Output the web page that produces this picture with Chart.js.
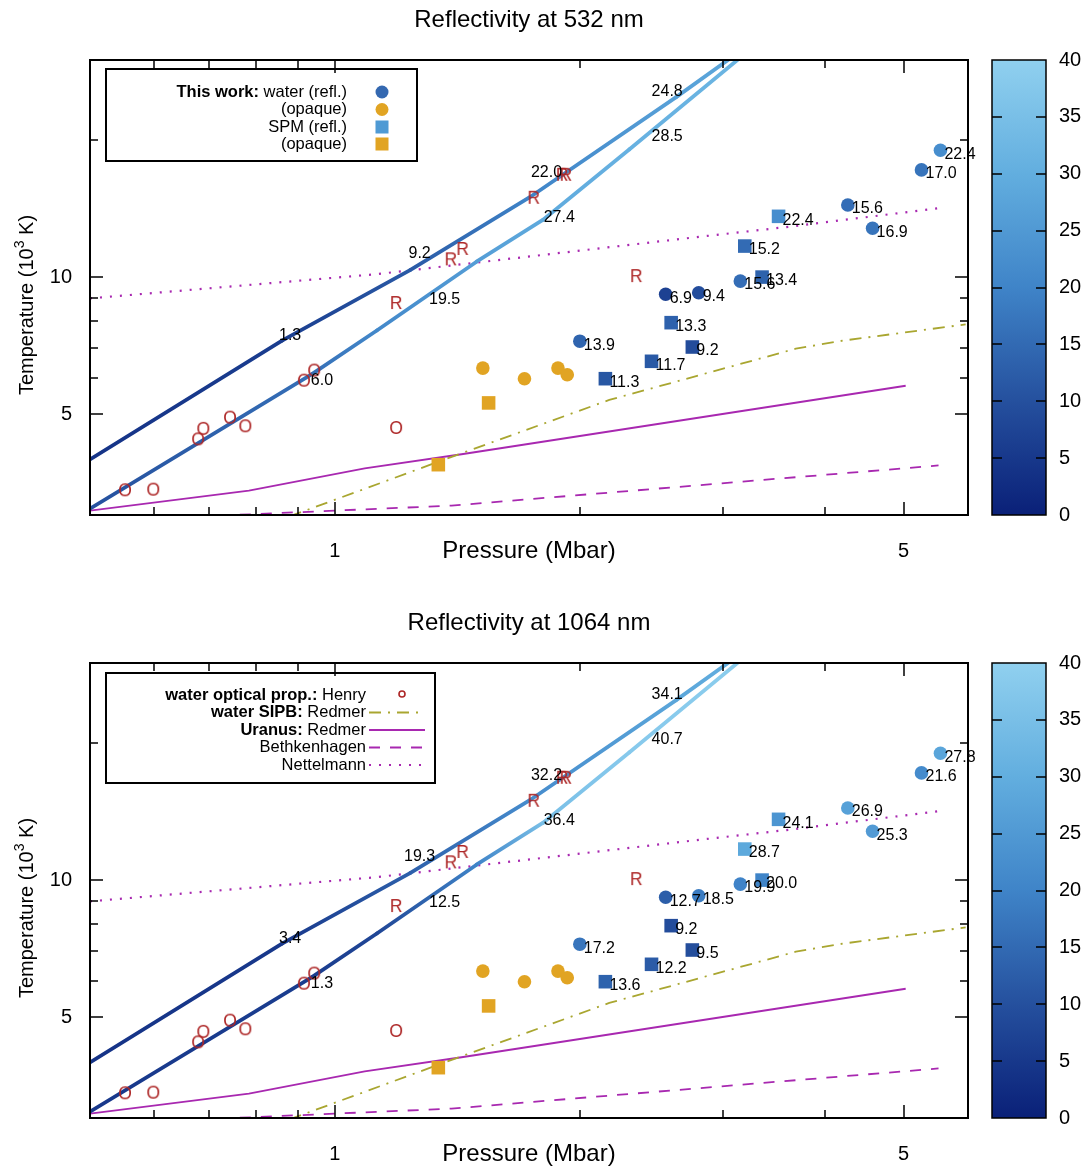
<!DOCTYPE html>
<html>
<head>
<meta charset="utf-8">
<script src="https://cdn.jsdelivr.net/npm/chart.js@4.4.1/dist/chart.umd.min.js"></script>
<style>
  body { margin: 0; background: #fff; }
  #wrap { position: relative; width: 1086px; height: 1166px; }
  canvas { position: absolute; }
</style>
</head>
<body>
<div id="wrap">
  <canvas id="main532" width="1086" height="563" style="left:0;top:0"></canvas>
  <canvas id="bar532" width="111" height="563" style="left:975px;top:0"></canvas>
  <canvas id="main1064" width="1086" height="563" style="left:0;top:603px"></canvas>
  <canvas id="bar1064" width="111" height="563" style="left:975px;top:603px"></canvas>
</div>
<script>
const FONT = '"Liberation Sans", Arial, Helvetica, sans-serif';

// --- data (pressure in Mbar, temperature in 10^3 K, reflectivity in %) ---
const pressureWater = [2.0, 2.55, 2.8, 3.15, 4.27, 4.58, 5.26, 5.55];
const tempWater = [7.23, 9.17, 9.24, 9.80, 14.4, 12.8, 17.2, 19.0];
const reflWater532 = [13.9, 6.9, 9.4, 15.6, 15.6, 16.9, 17.0, 22.4];
const reflWater1064 = [17.2, 12.7, 18.5, 19.9, 26.9, 25.3, 21.6, 27.8];

const pressureWaterOpaque = [1.52, 1.71, 1.88, 1.93];
const tempWaterOpaque = [6.31, 5.98, 6.31, 6.10];

const pressureSpm = [2.15, 2.45, 2.59, 2.75, 3.19, 3.35, 3.51];
const tempSpm = [5.98, 6.53, 7.94, 7.02, 11.7, 10.0, 13.6];
const reflSpm532 = [11.3, 11.7, 13.3, 9.2, 15.2, 13.4, 22.4];
const reflSpm1064 = [13.6, 12.2, 9.2, 9.5, 28.7, 20.0, 24.1];

const pressureSpmOpaque = [1.34, 1.545];
const tempSpmOpaque = [3.87, 5.29];

const pressureHenry = [0.552, 0.598, 0.679, 0.689, 0.743, 0.776, 0.916, 0.943, 1.189, 1.189, 1.388, 1.435, 1.755, 1.902, 1.922, 2.346];
const tempHenry = [3.40, 3.41, 4.40, 4.64, 4.91, 4.70, 5.92, 6.23, 4.66, 8.77, 10.94, 11.53, 14.94, 16.78, 16.78, 10.05];
const stateHenry = ['O', 'O', 'O', 'O', 'O', 'O', 'O', 'O', 'O', 'R', 'R', 'R', 'R', 'R', 'R', 'R'];

// two reflectivity-coloured paths
const pressureUpper = [0.5, 0.861, 1.237, 1.734, 2.627, 3.097];
const tempUpper = [3.975, 7.25, 10.36, 14.96, 24.86, 30.7];
const reflUpper532 = [4, 6, 12, 20, 27, 28];
const reflUpper1064 = [4, 5, 13, 22, 28, 30];
const pressureLower = [0.5, 0.937, 1.126, 1.493, 1.803, 2.302, 3.194];
const tempLower = [3.097, 6.12, 7.63, 10.81, 13.37, 19.1, 31.0];
const reflLower532 = [10, 16, 21, 26, 29, 31, 32];
const reflLower1064 = [5, 6, 8, 20, 35, 38, 39];

const upperLabelP = [0.881, 1.271, 1.820, 2.561];
const upperLabelT = [7.44, 11.24, 16.99, 25.55];
const lowerLabelP = [0.964, 1.364, 1.887, 2.561];
const lowerLabelT = [5.92, 8.94, 13.51, 20.41];
const upperLabels532 = ['1.3', '9.2', '22.0', '24.8'];
const lowerLabels532 = ['6.0', '19.5', '27.4', '28.5'];
const upperLabels1064 = ['3.4', '19.3', '32.2', '34.1'];
const lowerLabels1064 = ['1.3', '12.5', '36.4', '40.7'];

// model curves
const pressureNettelmann = [0.5, 1.126, 2.78, 3.614, 5.55];
const tempNettelmann = [8.98, 10.15, 12.24, 12.9, 14.19];
const pressureUranus = [0.5, 0.784, 1.088, 1.431, 5.03];
const tempUranus = [3.066, 3.395, 3.80, 4.08, 5.77];
const pressureBethkenhagen = [0.72, 1.391, 5.52];
const tempBethkenhagen = [2.99, 3.146, 3.855];
const pressureSipb = [0.88, 1.431, 2.174, 3.686, 4.21, 5.96];
const tempSipb = [2.98, 4.10, 5.37, 6.96, 7.25, 7.87];

// axes
const xTicks = [0.6, 0.7, 0.8, 0.9, 1, 2, 3, 4, 5];
const xTickLabels = [1, 5];
const yTicks = [5, 6, 7, 8, 9, 10, 20];
const yTickLabels = [5, 10];

const legendTopLabels = [['This work:', ' water (refl.)'], ['', '(opaque)'], ['', 'SPM (refl.)'], ['', '(opaque)']];
const legendBottomLabels = [['water optical prop.:', ' Henry'], ['water SIPB:', ' Redmer'], ['Uranus:', ' Redmer'], ['', 'Bethkenhagen'], ['', 'Nettelmann']];

// --- colours ---
const henryRed = '#ad2626';
const opaqueOrange = '#e1a423';
const purple = '#a828b0';
const olive = '#a9a630';
const paletteStops = [[0, [10, 32, 120]], [10, [37, 80, 158]], [20, [63, 132, 200]], [30, [98, 174, 223]], [40, [144, 208, 239]]];

function palette(v) {
  v = Math.max(0, Math.min(40, v));
  for (let i = 1; i < paletteStops.length; i++) {
    const [v1, c1] = paletteStops[i];
    const [v0, c0] = paletteStops[i - 1];
    if (v <= v1) {
      const t = (v - v0) / (v1 - v0);
      const c = c0.map((x, k) => Math.round(x + (c1[k] - x) * t));
      return 'rgb(' + c.join(',') + ')';
    }
  }
  return 'rgb(144,208,239)';
}

function letterMarker(ch) {
  const c = document.createElement('canvas');
  c.width = 22; c.height = 22;
  const g = c.getContext('2d');
  g.font = '17.5px ' + FONT;
  g.fillStyle = henryRed;
  g.textAlign = 'center';
  g.textBaseline = 'middle';
  g.fillText(ch, 11, 12);
  return c;
}
const markerO = letterMarker('O');
const markerR = letterMarker('R');

function pts(P, T) {
  return P.map((p, i) => ({ x: p, y: T[i] }));
}

function modelLine(P, T, color, dash, width, order) {
  return {
    data: pts(P, T), showLine: true, pointRadius: 0, borderColor: color,
    borderWidth: width, borderDash: dash, order: order
  };
}

function gradientLine(P, T, R) {
  return {
    data: pts(P, T), showLine: true, pointRadius: 0, borderWidth: 3.8, borderCapStyle: 'round',
    borderColor: palette(R[0]), order: 5, clip: 0,
    segment: {
      borderColor: c => {
        const g = c.chart.ctx.createLinearGradient(c.p0.x, c.p0.y, c.p1.x, c.p1.y);
        g.addColorStop(0, palette(R[c.p0DataIndex]));
        g.addColorStop(1, palette(R[c.p1DataIndex]));
        return g;
      },
      // keeps every segment separate so each gets its own gradient
      borderDashOffset: c => c.p0DataIndex * 0.001
    }
  };
}

function drawRichRight(ctx, bold, normal, xRight, y) {
  ctx.textAlign = 'right';
  ctx.textBaseline = 'middle';
  ctx.font = '16.5px ' + FONT;
  ctx.fillText(normal, xRight, y);
  if (bold) {
    const w = ctx.measureText(normal).width;
    ctx.font = 'bold 16.5px ' + FONT;
    ctx.fillText(bold, xRight - w, y);
  }
}

function drawLegendTop(ctx) {
  ctx.lineWidth = 2;
  ctx.strokeStyle = '#000';
  ctx.strokeRect(106, 69, 311, 92);
  ctx.fillStyle = '#000';
  const rows = [92, 109.5, 127, 144];
  legendTopLabels.forEach((l, i) => drawRichRight(ctx, l[0], l[1], 347, rows[i]));
  ctx.fillStyle = '#3468b0';
  ctx.beginPath(); ctx.arc(382, rows[0], 6.5, 0, Math.PI * 2); ctx.fill();
  ctx.fillStyle = opaqueOrange;
  ctx.beginPath(); ctx.arc(382, rows[1], 6.5, 0, Math.PI * 2); ctx.fill();
  ctx.fillStyle = '#4f9ad4';
  ctx.fillRect(375.5, rows[2] - 6.5, 13, 13);
  ctx.fillStyle = opaqueOrange;
  ctx.fillRect(375.5, rows[3] - 6.5, 13, 13);
}

function drawLegendBottom(ctx) {
  ctx.lineWidth = 2;
  ctx.strokeStyle = '#000';
  ctx.strokeRect(106, 70, 329, 110);
  ctx.fillStyle = '#000';
  const rows = [92, 109.5, 127, 144.5, 162];
  legendBottomLabels.forEach((l, i) => drawRichRight(ctx, l[0], l[1], 366, rows[i]));
  ctx.strokeStyle = henryRed; ctx.lineWidth = 1.6;
  ctx.beginPath(); ctx.arc(402, rows[0] - 1, 3, 0, Math.PI * 2); ctx.stroke();
  const samples = [[olive, [12, 7, 2, 7]], [purple, []], [purple, [11, 10]], [purple, [2, 8]]];
  samples.forEach((s, i) => {
    ctx.strokeStyle = s[0]; ctx.lineWidth = 2; ctx.setLineDash(s[1]);
    ctx.beginPath(); ctx.moveTo(369, rows[i + 1]); ctx.lineTo(425, rows[i + 1]); ctx.stroke();
  });
  ctx.setLineDash([]);
}

function decorPlugin(cfg) {
  return {
    id: 'decor',
    afterDatasetsDraw(chart) {
      const ctx = chart.ctx, a = chart.chartArea, xs = chart.scales.x, ys = chart.scales.y;
      ctx.save();
      ctx.fillStyle = '#000';
      ctx.font = '16px ' + FONT;
      ctx.textAlign = 'left';
      ctx.textBaseline = 'middle';
      pressureWater.forEach((p, i) => ctx.fillText(cfg.reflWater[i].toFixed(1), xs.getPixelForValue(p) + 4, ys.getPixelForValue(tempWater[i]) + 4));
      pressureSpm.forEach((p, i) => ctx.fillText(cfg.reflSpm[i].toFixed(1), xs.getPixelForValue(p) + 4, ys.getPixelForValue(tempSpm[i]) + 4));
      ctx.textAlign = 'center';
      upperLabelP.forEach((p, i) => ctx.fillText(cfg.upperLabels[i], xs.getPixelForValue(p), ys.getPixelForValue(upperLabelT[i])));
      lowerLabelP.forEach((p, i) => ctx.fillText(cfg.lowerLabels[i], xs.getPixelForValue(p), ys.getPixelForValue(lowerLabelT[i])));

      // frame and inward ticks on all four sides
      ctx.strokeStyle = '#000';
      ctx.lineWidth = 2;
      ctx.strokeRect(a.left, a.top, a.right - a.left, a.bottom - a.top);
      ctx.lineWidth = 1.5;
      ctx.beginPath();
      xTicks.forEach(v => {
        const px = Math.round(xs.getPixelForValue(v));
        if (px <= a.left + 1 || px >= a.right - 1) return;
        const len = xTickLabels.includes(v) ? 13 : 8;
        ctx.moveTo(px, a.bottom); ctx.lineTo(px, a.bottom - len);
        ctx.moveTo(px, a.top); ctx.lineTo(px, a.top + len);
      });
      yTicks.forEach(v => {
        const py = Math.round(ys.getPixelForValue(v));
        if (py <= a.top + 1 || py >= a.bottom - 1) return;
        const len = yTickLabels.includes(v) ? 13 : 8;
        ctx.moveTo(a.left, py); ctx.lineTo(a.left + len, py);
        ctx.moveTo(a.right, py); ctx.lineTo(a.right - len, py);
      });
      ctx.stroke();

      // titles
      const cx = (a.left + a.right) / 2;
      ctx.fillStyle = '#000';
      ctx.textAlign = 'center';
      ctx.textBaseline = 'middle';
      ctx.font = '24px ' + FONT;
      ctx.fillText(cfg.title, cx, 20);
      ctx.fillText('Pressure (Mbar)', cx, 551);

      ctx.save();
      ctx.translate(27, 305);
      ctx.rotate(-Math.PI / 2);
      const t1 = 'Temperature (10', t2 = '3', t3 = ' K)';
      ctx.font = '20px ' + FONT;
      const w1 = ctx.measureText(t1).width, w3 = ctx.measureText(t3).width;
      ctx.font = '14px ' + FONT;
      const w2 = ctx.measureText(t2).width;
      let x0 = -(w1 + w2 + w3) / 2;
      ctx.textAlign = 'left';
      ctx.font = '20px ' + FONT;
      ctx.fillText(t1, x0, 0);
      ctx.font = '14px ' + FONT;
      ctx.fillText(t2, x0 + w1, -7);
      ctx.font = '20px ' + FONT;
      ctx.fillText(t3, x0 + w1 + w2, 0);
      ctx.restore();

      cfg.legend(ctx);
      ctx.restore();
    }
  };
}

function makePanel(id, cfg) {
  const datasets = [
    { data: pts(pressureWater, tempWater), pointRadius: 6.8, pointBorderWidth: 0,
      pointBackgroundColor: cfg.reflWater.map(palette), order: 0 },
    { data: pts(pressureWaterOpaque, tempWaterOpaque), pointRadius: 6.8, pointBorderWidth: 0,
      pointBackgroundColor: opaqueOrange, order: 0 },
    { data: pts(pressureSpm, tempSpm), pointStyle: 'rect', pointRadius: 9.6, pointBorderWidth: 0,
      pointBackgroundColor: cfg.reflSpm.map(palette), order: 0 },
    { data: pts(pressureSpmOpaque, tempSpmOpaque), pointStyle: 'rect', pointRadius: 9.6, pointBorderWidth: 0,
      pointBackgroundColor: opaqueOrange, order: 0 },
    { data: pts(pressureHenry, tempHenry), pointStyle: stateHenry.map(s => s === 'O' ? markerO : markerR),
      pointRadius: 8, order: 1 },
    gradientLine(pressureUpper, tempUpper, cfg.reflUpper),
    gradientLine(pressureLower, tempLower, cfg.reflLower),
    modelLine(pressureNettelmann, tempNettelmann, purple, [2, 8], 2.2, 8),
    modelLine(pressureUranus, tempUranus, purple, [], 1.8, 8),
    modelLine(pressureBethkenhagen, tempBethkenhagen, purple, [11, 10], 1.8, 8),
    modelLine(pressureSipb, tempSipb, olive, [12, 7, 2, 7], 1.8, 7)
  ];
  return new Chart(document.getElementById(id), {
    type: 'scatter',
    data: { datasets: datasets },
    options: {
      responsive: false,
      animation: false,
      events: [],
      layout: { padding: { top: 60, right: 118, left: 0, bottom: 0 } },
      plugins: { legend: { display: false }, tooltip: { enabled: false } },
      scales: {
        x: {
          type: 'logarithmic', min: 0.5, max: 6,
          afterBuildTicks: s => { s.ticks = xTicks.map(v => ({ value: v })); },
          afterFit: s => { s.height = 48; },
          ticks: {
            autoSkip: false, maxRotation: 0, padding: 24, color: '#000',
            font: { family: FONT, size: 20 },
            callback: v => xTickLabels.includes(v) ? String(v) : ''
          },
          grid: { display: false, drawTicks: false },
          border: { display: false }
        },
        y: {
          type: 'logarithmic', min: 3, max: 30,
          afterBuildTicks: s => { s.ticks = yTicks.map(v => ({ value: v })); },
          afterFit: s => { s.width = 90; },
          ticks: {
            autoSkip: false, padding: 18, color: '#000',
            font: { family: FONT, size: 20 },
            callback: v => yTickLabels.includes(v) ? String(v) : ''
          },
          grid: { display: false, drawTicks: false },
          border: { display: false }
        }
      }
    },
    plugins: [decorPlugin(cfg)]
  });
}

const colorbarPlugin = {
  id: 'colorbar',
  beforeDatasetsDraw(chart) {
    const ctx = chart.ctx, a = chart.chartArea, ys = chart.scales.y;
    const g = ctx.createLinearGradient(0, a.bottom, 0, a.top);
    paletteStops.forEach(s => g.addColorStop(s[0] / 40, 'rgb(' + s[1].join(',') + ')'));
    ctx.save();
    ctx.fillStyle = g;
    ctx.fillRect(a.left, a.top, a.right - a.left, a.bottom - a.top);
    ctx.strokeStyle = '#000';
    ctx.lineWidth = 1.5;
    ctx.strokeRect(a.left, a.top, a.right - a.left, a.bottom - a.top);
    ctx.beginPath();
    for (let v = 5; v < 40; v += 5) {
      const py = Math.round(ys.getPixelForValue(v));
      ctx.moveTo(a.left, py); ctx.lineTo(a.left + 10, py);
      ctx.moveTo(a.right, py); ctx.lineTo(a.right - 10, py);
    }
    ctx.stroke();
    ctx.restore();
  }
};

function makeColorbar(id) {
  return new Chart(document.getElementById(id), {
    type: 'scatter',
    data: { datasets: [] },
    options: {
      responsive: false,
      animation: false,
      events: [],
      layout: { padding: { left: 17, top: 60, right: 0, bottom: 48 } },
      plugins: { legend: { display: false }, tooltip: { enabled: false } },
      scales: {
        x: { display: false, min: 0, max: 1 },
        y: {
          position: 'right', min: 0, max: 40,
          afterFit: s => { s.width = 40; },
          ticks: { stepSize: 5, padding: 13, color: '#000', font: { family: FONT, size: 20 } },
          grid: { display: false, drawTicks: false },
          border: { display: false }
        }
      }
    },
    plugins: [colorbarPlugin]
  });
}

makePanel('main532', {
  title: 'Reflectivity at 532 nm',
  reflWater: reflWater532, reflSpm: reflSpm532,
  reflUpper: reflUpper532, reflLower: reflLower532,
  upperLabels: upperLabels532, lowerLabels: lowerLabels532,
  legend: drawLegendTop
});
makePanel('main1064', {
  title: 'Reflectivity at 1064 nm',
  reflWater: reflWater1064, reflSpm: reflSpm1064,
  reflUpper: reflUpper1064, reflLower: reflLower1064,
  upperLabels: upperLabels1064, lowerLabels: lowerLabels1064,
  legend: drawLegendBottom
});
makeColorbar('bar532');
makeColorbar('bar1064');
</script>
</body>
</html>
